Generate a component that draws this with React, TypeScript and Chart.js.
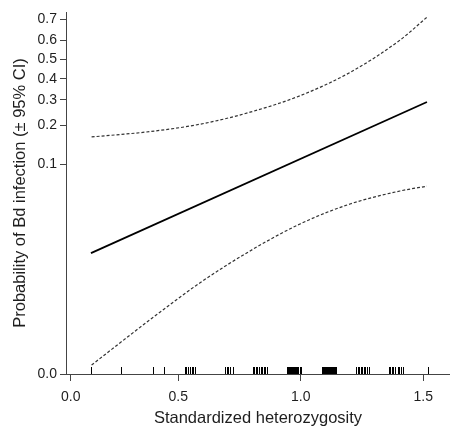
import React, { useEffect, useRef } from 'react';
import { Chart, registerables } from 'chart.js';

Chart.register(...registerables);

// ---- data ----
const xTickValues = [0, 0.5, 1.0, 1.5];
const xTickLabels = ['0.0', '0.5', '1.0', '1.5'];
const xRange = [-0.022, 1.609];
// the original figure's x axis is compressed below 0.5
const xLowCompress = 0.878;

const yTickProbs = [0.00135, 0.1, 0.2, 0.3, 0.4, 0.5, 0.6, 0.7];
const yTickLabels = ['0.0', '0.1', '0.2', '0.3', '0.4', '0.5', '0.6', '0.7'];
const yRange = [0.00135, 0.73];

const fitX = [0.094, 1.515];
const fitP = [0.0168, 0.29];

const upperX = [0.097, 0.368, 0.589, 0.793, 0.997, 1.201, 1.405, 1.515];
const upperP = [0.164, 0.18, 0.204, 0.248, 0.318, 0.432, 0.6, 0.708];

const lowerX = [0.097, 0.368, 0.589, 0.793, 0.997, 1.201, 1.405, 1.515];
const lowerP = [0.00163, 0.0042, 0.0091, 0.0176, 0.0306, 0.0458, 0.0593, 0.0652];

const rugX = [
  0.094, 0.232, 0.381, 0.432,
  0.527, 0.533, 0.541, 0.548, 0.556, 0.562, 0.568,
  0.691, 0.697, 0.703, 0.711, 0.723,
  0.805, 0.811, 0.817, 0.823, 0.83, 0.836, 0.842, 0.848, 0.855, 0.862,
  0.944, 0.948, 0.952, 0.957, 0.961, 0.965, 0.969, 0.973, 0.977, 0.981, 0.986, 0.99, 0.997, 1.001,
  1.087, 1.091, 1.095, 1.099, 1.103, 1.107, 1.111, 1.116, 1.12, 1.124, 1.128, 1.132, 1.136, 1.14, 1.144,
  1.226, 1.232, 1.238, 1.244, 1.25, 1.256, 1.262, 1.27, 1.278,
  1.36, 1.366, 1.372, 1.378, 1.385, 1.397, 1.401, 1.409, 1.417,
  1.519,
];

const xTitle = 'Standardized heterozygosity';
const yTitle = 'Probability of Bd infection (\u00B1 95% CI)';

// ---- transforms ----
const logit = (p: number) => Math.log(p / (1 - p));
const xt = (x: number) => (x >= 0.5 ? x : 0.5 - (0.5 - x) * xLowCompress);

const toPts = (xs: number[], ps: number[]) => xs.map((x, i) => ({ x: xt(x), y: logit(ps[i]) }));

const FONT = "'Liberation Sans', Arial, sans-serif";
const TEXT = '#1e1e1e';
const AXIS = '#444';

const rugPlugin = {
  id: 'rug',
  afterDatasetsDraw(chart: any) {
    const { ctx, chartArea, scales } = chart;
    ctx.save();
    ctx.strokeStyle = '#000';
    ctx.lineWidth = 1;
    for (const v of rugX) {
      const px = Math.round(scales.x.getPixelForValue(xt(v))) + 0.5;
      ctx.beginPath();
      ctx.moveTo(px, chartArea.bottom);
      ctx.lineTo(px, chartArea.bottom - 7);
      ctx.stroke();
    }
    ctx.restore();
  },
};

export default function App() {
  const ref = useRef<HTMLCanvasElement | null>(null);

  useEffect(() => {
    document.body.style.margin = '0';
    const canvas = ref.current;
    if (!canvas) return;
    const dashed = {
      showLine: true,
      borderColor: '#333',
      borderWidth: 1.2,
      borderDash: [3, 2],
      pointRadius: 0,
      cubicInterpolationMode: 'monotone',
    };
    const chart = new Chart(canvas, {
      type: 'scatter',
      data: {
        datasets: [
          { ...dashed, data: toPts(upperX, upperP) },
          { ...dashed, data: toPts(lowerX, lowerP) },
          {
            data: toPts(fitX, fitP),
            showLine: true,
            borderColor: '#000',
            borderWidth: 1.8,
            pointRadius: 0,
          },
        ],
      },
      options: {
        animation: false,
        responsive: false,
        devicePixelRatio: 1,
        layout: { padding: { top: 12, right: 0, left: 0, bottom: 0 } },
        plugins: { legend: { display: false }, tooltip: { enabled: false } },
        scales: {
          x: {
            type: 'linear',
            min: xt(xRange[0]),
            max: xRange[1],
            afterBuildTicks: (scale: any) => {
              scale.ticks = xTickValues.map((v) => ({ value: xt(v) }));
            },
            afterFit: (scale: any) => {
              scale.height = 54;
            },
            ticks: {
              autoSkip: false,
              maxRotation: 0,
              color: TEXT,
              font: { family: FONT, size: 14 },
              padding: 8,
              callback: (_v: any, i: number) => xTickLabels[i],
            },
            grid: { drawOnChartArea: false, drawTicks: true, tickLength: 7, color: AXIS },
            border: { display: true, color: AXIS, width: 1 },
            title: {
              display: true,
              text: xTitle,
              color: TEXT,
              font: { family: FONT, size: 16.5 },
              padding: { top: 0, bottom: 0 },
            },
          },
          y: {
            type: 'linear',
            min: logit(yRange[0]),
            max: logit(yRange[1]),
            afterBuildTicks: (scale: any) => {
              scale.ticks = yTickProbs.map((p) => ({ value: logit(p) }));
            },
            afterFit: (scale: any) => {
              scale.width = 66;
            },
            ticks: {
              autoSkip: false,
              color: TEXT,
              font: { family: FONT, size: 14 },
              padding: 3,
              callback: (_v: any, i: number) => yTickLabels[i],
            },
            grid: { drawOnChartArea: false, drawTicks: true, tickLength: 6, color: AXIS },
            border: { display: true, color: AXIS, width: 1 },
            title: {
              display: true,
              text: yTitle,
              color: TEXT,
              font: { family: FONT, size: 16.5 },
              padding: { top: 11, bottom: 0 },
            },
          },
        },
      },
      plugins: [rugPlugin],
    } as any);
    return () => chart.destroy();
  }, []);

  return (
    <div style={{ width: 450, height: 428 }}>
      <canvas ref={ref} width={450} height={428} />
    </div>
  );
}
